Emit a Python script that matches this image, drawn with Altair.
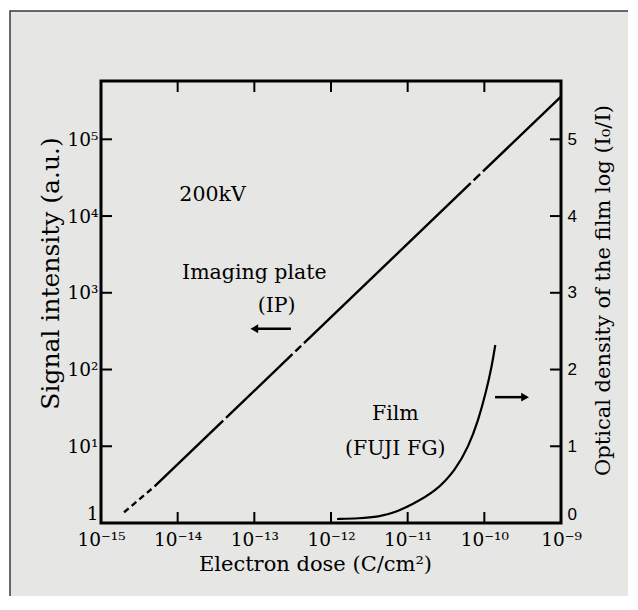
import json
import altair as alt
import pandas as pd

# ---------------- data ----------------
# Imaging plate (left axis, log signal)
ip_dash_dose = [2.0e-15, 5.0e-15]
ip_dash_signal = [1.38, 3.0]
ip_solid_dose = [5.0e-15, 1.0e-9]
ip_solid_signal = [3.0, 3.6e5]

# Film FUJI FG (right axis, optical density)
film_dose = [1.20e-12, 2.31e-12, 4.20e-12, 6.98e-12, 1.13e-11, 2.31e-11, 4.20e-11,
             6.19e-11, 8.36e-11, 1.06e-10, 1.25e-10, 1.39e-10]
film_density = [0.052, 0.06, 0.08, 0.14, 0.24, 0.41, 0.69, 0.99, 1.34, 1.72, 2.04, 2.32]

# axes
x_ticks = [1e-15, 1e-14, 1e-13, 1e-12, 1e-11, 1e-10, 1e-9]
x_tick_labels = ["10⁻¹⁵", "10⁻¹⁴", "10⁻¹³", "10⁻¹²", "10⁻¹¹", "10⁻¹⁰", "10⁻⁹"]
y_left_ticks = [1, 10, 100, 1e3, 1e4, 1e5]
y_left_labels = ["1", "10¹", "10²", "10³", "10⁴", "10⁵"]
y_right_ticks = [0, 1, 2, 3, 4, 5]
x_domain = [1e-15, 1e-9]
y_left_domain = [1, 5.75e5]
y_right_domain = [0, 5.76]

# annotations
label_text = ["200kV", "Imaging plate", "(IP)", "Film", "(FUJI FG)"]
label_dose = [2.85e-14, 1.0e-13, 1.95e-13, 6.9e-12, 6.9e-12]
label_signal = [1.9e4, 1.8e3, 676, 26, 9.2]
ip_arrow_dose = [1.0e-13, 3.0e-13]
ip_arrow_signal = [339, 339]
film_arrow_dose = [1.38e-10, 3.4e-10]
film_arrow_density = [1.64, 1.64]

# ---------------- chart ----------------
W, H = 460, 442
SERIF = "DejaVu Serif"

xscale = alt.Scale(type="log", domain=x_domain, nice=False)
ylscale = alt.Scale(type="log", domain=y_left_domain, nice=False)
yrscale = alt.Scale(type="linear", domain=y_right_domain, nice=False, zero=False)

x_axis = alt.Axis(
    values=x_ticks,
    labelExpr=json.dumps(x_tick_labels, ensure_ascii=False) + "[round(log(datum.value)/LN10) + 15]",
    ticks=False, domain=False, grid=False, zindex=2,
    labelFont=SERIF, labelFontSize=18.5, labelPadding=7, labelColor="black",
    labelFlush=False, labelOverlap=False,
    title="Electron dose (C/cm²)", titleFont=SERIF, titleFontSize=21, titleFontWeight="normal",
    titleColor="black", titleX=214, titleY=47, titleBaseline="alphabetic", titleAlign="center",
)
yl_axis = alt.Axis(
    orient="left",
    values=y_left_ticks,
    labelExpr=json.dumps(y_left_labels, ensure_ascii=False) + "[round(log(datum.value)/LN10)]",
    ticks=False, domain=False, grid=False, zindex=2,
    labelFont=SERIF, labelFontSize=18.5, labelPadding=3, labelColor="black",
    labelFlush=True, labelOverlap=False,
    title="Signal intensity (a.u.)", titleFont=SERIF, titleFontSize=25, titleFontWeight="normal",
    titleColor="black", titleAngle=270, titleX=-51, titleY=192, titleBaseline="middle", titleAlign="center",
)
yr_axis = alt.Axis(
    orient="right",
    values=y_right_ticks,
    format="d",
    ticks=False, domain=False, grid=False, zindex=2,
    labelFont="Liberation Sans", labelFontSize=17, labelPadding=6, labelColor="black",
    labelFlush=True, labelOverlap=False,
    title="Optical density of the film  log (I₀/I)", titleFont=SERIF, titleFontSize=21,
    titleFontWeight="normal", titleColor="black", titleAngle=270, titleX=42, titleY=209,
    titleBaseline="middle", titleAlign="center",
)


def X(field):
    return alt.X(f"{field}:Q", scale=xscale, axis=x_axis)


def X2(field):
    return alt.X2(f"{field}:Q")


def YL(field):
    return alt.Y(f"{field}:Q", scale=ylscale, axis=yl_axis)


def YR(field):
    return alt.Y(f"{field}:Q", scale=yrscale, axis=yr_axis)


one = pd.DataFrame({"k": [0]})

bg = alt.Chart(one).mark_rect(fill="#e6e6e4", stroke="#3a3a3a", strokeWidth=1.5).encode(
    x=alt.value(-91), x2=alt.value(600), y=alt.value(-70), y2=alt.value(600)
)

ip_dash = alt.Chart(pd.DataFrame({"dose": ip_dash_dose, "signal": ip_dash_signal})).mark_line(
    color="black", strokeWidth=2.4, strokeDash=[6, 4]
).encode(x=X("dose"), y=YL("signal"))

# the printed IP line has a few small breaks along its length
ip_solid = alt.Chart(pd.DataFrame({"dose": ip_solid_dose, "signal": ip_solid_signal})).mark_line(
    color="black", strokeWidth=2.4, strokeDash=[95, 4, 92, 4, 8, 4, 231, 4, 9, 4, 400]
).encode(x=X("dose"), y=YL("signal"))

labels = alt.Chart(pd.DataFrame({"dose": label_dose, "signal": label_signal, "t": label_text})).mark_text(
    font=SERIF, fontSize=20.5, color="black", align="center", baseline="middle"
).encode(x=X("dose"), y=YL("signal"), text="t:N")

ip_arrow_df = pd.DataFrame({"d1": [ip_arrow_dose[0]], "d2": [ip_arrow_dose[1]], "s": [ip_arrow_signal[0]]})
ip_shaft = alt.Chart(ip_arrow_df).mark_rule(color="black", strokeWidth=2.5).encode(
    x=X("d1"), x2=X2("d2"), y=YL("s")
)
ip_head = alt.Chart(ip_arrow_df).mark_point(
    shape="triangle-left", filled=True, color="black", size=80, opacity=1
).encode(x=X("d1"), y=YL("s"))

xt = pd.DataFrame({"v": x_ticks[1:-1]})
bottom_ticks = alt.Chart(xt).mark_rule(color="black", strokeWidth=2).encode(
    x=X("v"), y=alt.value(H), y2=alt.value(H - 11)
)
top_ticks = alt.Chart(xt).mark_rule(color="black", strokeWidth=2).encode(
    x=X("v"), y=alt.value(0), y2=alt.value(11)
)
left_ticks = alt.Chart(pd.DataFrame({"v": y_left_ticks[1:]})).mark_rule(color="black", strokeWidth=2).encode(
    y=YL("v"), x=alt.value(0), x2=alt.value(11)
)

film = alt.Chart(pd.DataFrame({"dose": film_dose, "density": film_density})).mark_line(
    color="black", strokeWidth=2.2, interpolate="basis"
).encode(x=X("dose"), y=YR("density"))

film_arrow_df = pd.DataFrame({"d1": [film_arrow_dose[0]], "d2": [film_arrow_dose[1]], "s": [film_arrow_density[0]]})
film_shaft = alt.Chart(film_arrow_df).mark_rule(color="black", strokeWidth=2.5).encode(
    x=X("d1"), x2=X2("d2"), y=YR("s")
)
film_head = alt.Chart(film_arrow_df).mark_point(
    shape="triangle-right", filled=True, color="black", size=80, opacity=1
).encode(x=X("d2"), y=YR("s"))

right_ticks = alt.Chart(pd.DataFrame({"v": y_right_ticks[1:]})).mark_rule(color="black", strokeWidth=2).encode(
    y=YR("v"), x=alt.value(W - 11), x2=alt.value(W)
)

frame = alt.Chart(one).mark_rect(fillOpacity=0, stroke="black", strokeWidth=3).encode(
    x=alt.value(0), x2=alt.value(W), y=alt.value(0), y2=alt.value(H)
)

left = alt.layer(bg, ip_dash, ip_solid, labels, ip_shaft, ip_head, bottom_ticks, top_ticks, left_ticks)
right = alt.layer(film, film_shaft, film_head, right_ticks, frame)

chart = (
    alt.layer(left, right)
    .resolve_scale(y="independent")
    .resolve_axis(y="independent")
    .properties(
        width=W,
        height=H,
        padding={"left": 93, "top": 73, "right": 67, "bottom": 73},
        autosize=alt.AutoSizeParams(type="none"),
        background="white",
    )
    .configure_view(stroke="transparent")
)

chart.save("out.html", embed_options={"renderer": "svg", "actions": False})
